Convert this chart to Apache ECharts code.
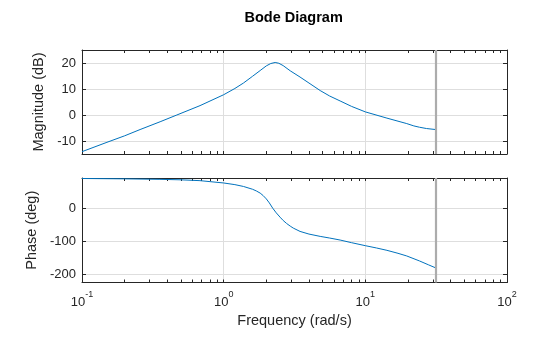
<!DOCTYPE html>
<html>
<head>
<meta charset="utf-8">
<title>Bode Diagram</title>
<script src="https://cdn.jsdelivr.net/npm/echarts@6/dist/echarts.min.js"></script>
<style>
  html, body { margin: 0; padding: 0; background: #fff; }
  #chart { width: 560px; height: 337px; }
</style>
</head>
<body>
<div id="chart"></div>
<script>
// Frequency response samples (rad/s) and their magnitude / phase
const magFreq = [0.1, 0.15, 0.2, 0.257, 0.356, 0.467, 0.681, 1.0, 1.2, 1.38, 1.6, 1.81, 2.0, 2.15, 2.31, 2.45, 2.63, 2.95, 3.46, 4.0, 4.8, 5.6, 6.64, 8.0, 10, 14.2, 19.6, 22, 24.1, 27, 31.4];
const magDb   = [-14.1, -10.5, -8.0, -5.6, -2.6, 0.0, 3.6, 7.8, 10.2, 12.3, 14.9, 17.1, 18.9, 19.8, 20.2, 19.9, 19.0, 17.0, 14.6, 12.3, 9.4, 7.3, 5.4, 3.3, 1.2, -1.2, -3.3, -4.2, -4.7, -5.2, -5.6];

const phaseFreq = [0.1, 0.2, 0.35, 0.5, 0.68, 1.0, 1.2, 1.38, 1.6, 1.7, 1.81, 1.9, 2.0, 2.1, 2.22, 2.35, 2.5, 2.63, 2.78, 2.95, 3.1, 3.46, 4.0, 4.8, 5.6, 6.64, 8.0, 10, 12, 14.2, 17, 19.6, 24.1, 28, 31.4];
const phaseDeg  = [89.5, 88.5, 87, 85.5, 83, 76, 71, 65.5, 57, 52, 45.5, 38, 28, 16, 0, -14, -27, -37, -46, -54, -60, -70, -78, -85, -90, -96, -104, -113, -120, -127, -136, -144, -159, -171, -180];

// Nyquist frequency of the sampled system
const nyquist = 31.4;

// Axis ticks
const freqTicks = [0.1, 0.2, 0.3, 0.4, 0.5, 0.6, 0.7, 0.8, 0.9,
                   1, 2, 3, 4, 5, 6, 7, 8, 9,
                   10, 20, 30, 40, 50, 60, 70, 80, 90, 100];
const freqDecades = [0.1, 1, 10, 100];
const magTicks = [-10, 0, 10, 20];
const phaseTicks = [-200, -100, 0];

const FONT = 'Liberation Sans, Arial, Helvetica, sans-serif';
const TXT = '#262626';
const AX = '#262626';
const GRID = '#dedede';
const BLUE = '#0072BD';

const magData = magFreq.map((f, i) => [f, magDb[i]]);
const phaseData = phaseFreq.map((f, i) => [f, phaseDeg[i]]);

// Box edge of a frequency axis, with ticks on every 1..9 multiple
function freqAxis(gridIndex, position, showLabels) {
  return {
    type: 'log', logBase: 10, gridIndex, position,
    min: 0.1, max: 100,
    axisLine: { show: true, onZero: false, lineStyle: { color: AX, width: 1 } },
    axisTick: { show: true, inside: true, length: 3, customValues: freqTicks,
                lineStyle: { color: AX, width: 1 } },
    minorTick: { show: false },
    axisLabel: showLabels ? {
      show: true, customValues: freqDecades, margin: 8,
      showMinLabel: true, showMaxLabel: true,
      formatter: v => '{b|10}{s|' + Math.round(Math.log10(v)) + '}',
      rich: {
        b: { fontSize: 13, fontFamily: FONT, color: TXT, lineHeight: 18, verticalAlign: 'bottom' },
        s: { fontSize: 9, fontFamily: FONT, color: TXT, lineHeight: 18, verticalAlign: 'top' }
      }
    } : { show: false },
    splitLine: { show: false },
    name: showLabels ? 'Frequency (rad/s)' : '',
    nameLocation: 'middle', nameGap: 31,
    nameTextStyle: { fontSize: 14.5, fontFamily: FONT, color: TXT }
  };
}

// Decade grid lines only
function freqGridAxis(gridIndex) {
  return {
    type: 'log', logBase: 10, gridIndex, position: 'bottom',
    min: 0.1, max: 100,
    axisLine: { show: false },
    axisTick: { show: false, customValues: freqDecades },
    axisLabel: { show: false, customValues: freqDecades },
    splitLine: { show: true, lineStyle: { color: GRID, width: 1 } }
  };
}

function valueAxis(gridIndex, position, min, max, ticks, name, gap) {
  const main = position === 'left';
  return {
    type: 'value', gridIndex, position, min, max,
    axisLine: { show: true, onZero: false, lineStyle: { color: AX, width: 1 } },
    axisTick: { show: true, inside: true, length: 4, customValues: ticks,
                lineStyle: { color: AX, width: 1 } },
    axisLabel: main ? { show: true, customValues: ticks, margin: 6,
                        fontSize: 13, fontFamily: FONT, color: TXT } : { show: false },
    splitLine: { show: main, lineStyle: { color: GRID, width: 1 } },
    name: main ? name : '',
    nameLocation: 'middle', nameGap: gap, nameRotate: 90,
    nameTextStyle: { fontSize: 14.5, fontFamily: FONT, color: TXT }
  };
}

const nyqLine = {
  silent: true, symbol: 'none', label: { show: false },
  lineStyle: { color: '#acacac', width: 2.2, type: 'solid' },
  data: [{ xAxis: nyquist }],
  animation: false
};

const chart = echarts.init(document.getElementById('chart'), null, { renderer: 'canvas' });
chart.setOption({
  animation: false,
  backgroundColor: '#ffffff',
  textStyle: { fontFamily: FONT },
  grid: [
    { left: 82, top: 50, width: 425, height: 104 },
    { left: 82, top: 178, width: 425, height: 104.5 }
  ],
  xAxis: [
    freqAxis(0, 'bottom', false),
    freqAxis(0, 'top', false),
    freqAxis(1, 'bottom', true),
    freqAxis(1, 'top', false),
    freqGridAxis(0),
    freqGridAxis(1)
  ],
  yAxis: [
    valueAxis(0, 'left', -15, 25, magTicks, 'Magnitude (dB)', 30),
    valueAxis(0, 'right', -15, 25, magTicks, '', 0),
    valueAxis(1, 'left', -224, 91, phaseTicks, 'Phase (deg)', 37),
    valueAxis(1, 'right', -224, 91, phaseTicks, '', 0)
  ],
  graphic: [{
    type: 'text', left: 294.5 - 50, top: 10,
    style: { text: 'Bode Diagram', x: 0, y: 0, fontSize: 14.5, fontWeight: 'bold',
             fontFamily: FONT, fill: '#000000', width: 100, align: 'center' }
  }],
  series: [
    {
      type: 'line', xAxisIndex: 0, yAxisIndex: 0, data: magData,
      showSymbol: false, smooth: false,
      lineStyle: { color: BLUE, width: 1 }, itemStyle: { color: BLUE },
      markLine: nyqLine, z: 3
    },
    {
      type: 'line', xAxisIndex: 2, yAxisIndex: 2, data: phaseData,
      showSymbol: false, smooth: false,
      lineStyle: { color: BLUE, width: 1 }, itemStyle: { color: BLUE },
      markLine: nyqLine, z: 3
    }
  ]
});
</script>
</body>
</html>
